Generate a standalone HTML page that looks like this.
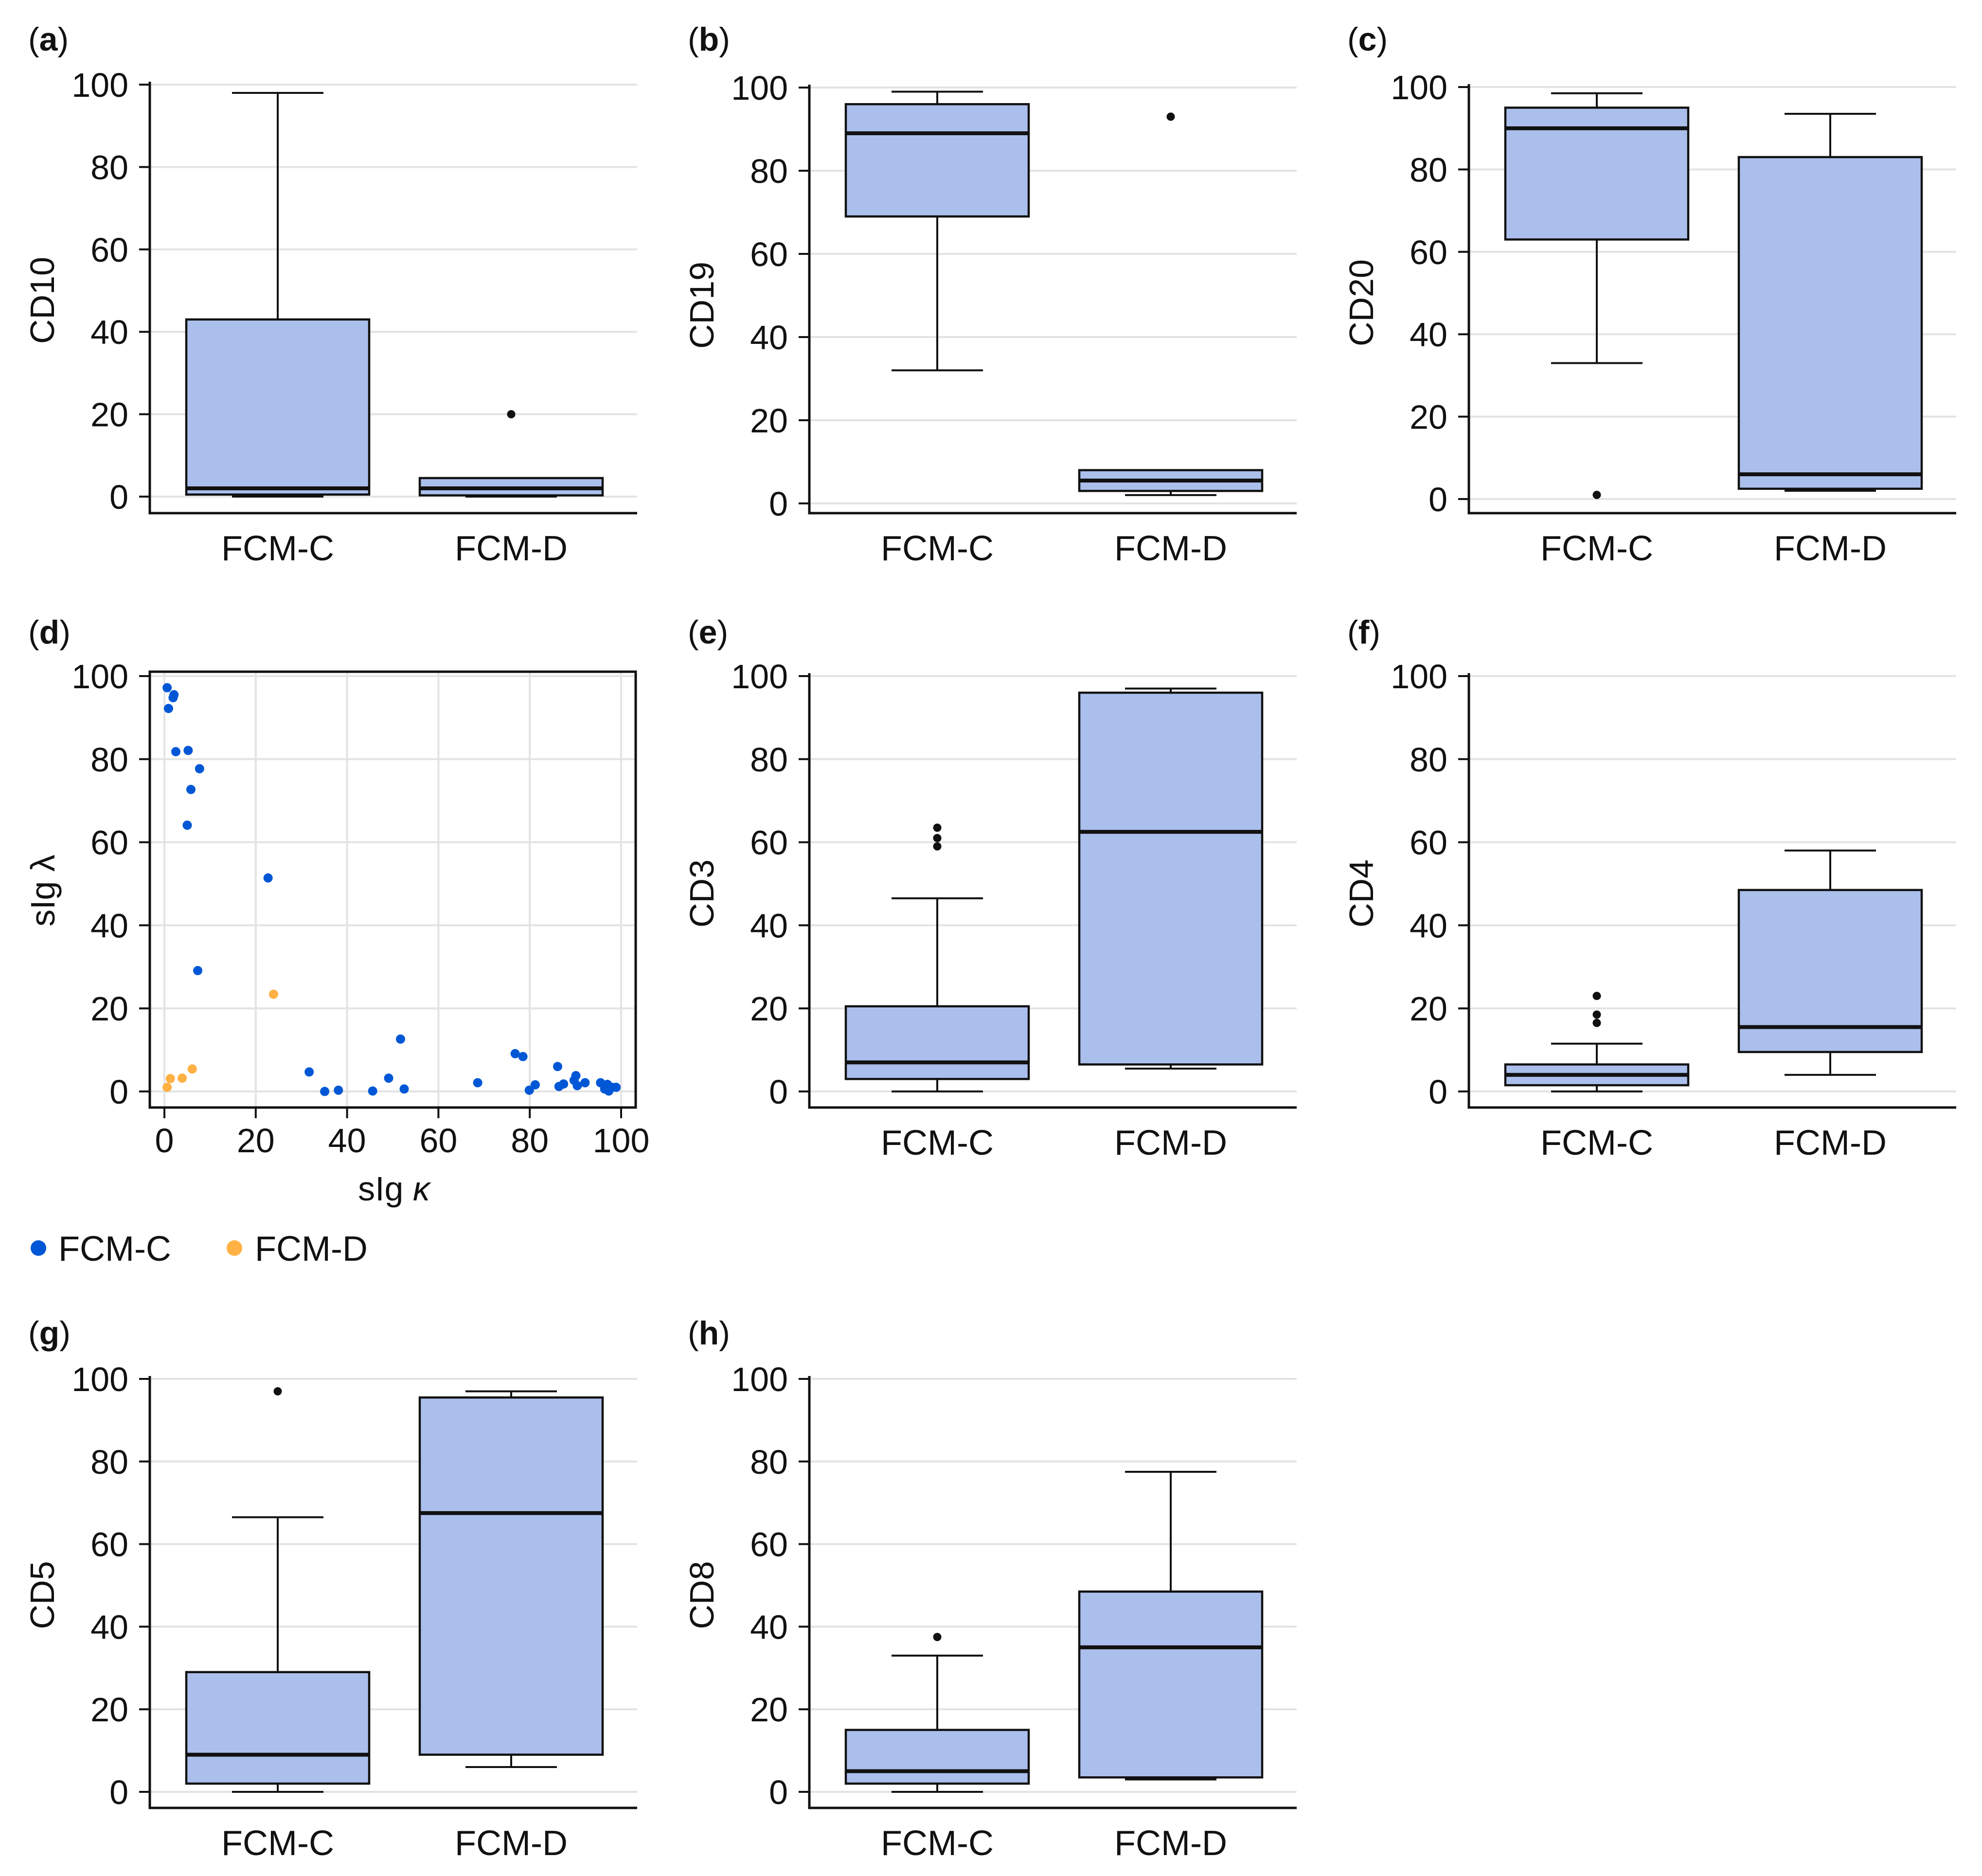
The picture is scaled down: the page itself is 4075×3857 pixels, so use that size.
<!DOCTYPE html>
<html><head><meta charset="utf-8"><style>
html,body{margin:0;padding:0;background:#fff;}
svg{display:block;}
text{font-family:"Liberation Sans",sans-serif;fill:#111;}
</style></head><body>
<svg id="fig" xmlns="http://www.w3.org/2000/svg" width="4075" height="3857" viewBox="0 0 4075 3857"></svg>
<script>
// ---- data ----
const categories = ["FCM-C", "FCM-D"];
const yTicks = [0, 20, 40, 60, 80, 100];
const xTicksD = [0, 20, 40, 60, 80, 100];
// box stats: [min, q1, median, q3, max]
const boxA = [[0, 0.5, 2, 43, 98], [0, 0.3, 2, 4.5, 4.5]];
const outA = [[], [20]];
const boxB = [[32, 69, 89, 96, 99], [2, 3, 5.5, 8, 8]];
const outB = [[], [93]];
const boxC = [[33, 63, 90, 95, 98.5], [2, 2.5, 6, 83, 93.5]];
const outC = [[1], []];
const boxE = [[0, 3, 7, 20.5, 46.5], [5.5, 6.5, 62.5, 96, 97]];
const outE = [[59, 61, 63.5], []];
const boxF = [[0, 1.5, 4, 6.5, 11.5], [4, 9.5, 15.5, 48.5, 58]];
const outF = [[16.5, 18.5, 23], []];
const boxG = [[0, 2, 9, 29, 66.5], [6, 9, 67.5, 95.5, 97]];
const outG = [[97], []];
const boxH = [[0, 2, 5, 15, 33], [3, 3.5, 35, 48.5, 77.5]];
const outH = [[37.5], []];
// scatter (d): sIg kappa (x), sIg lambda (y)
const scCx = [0.6,2.1,1.9,0.9,2.5,5.2,7.7,5.8,5.0,22.7,7.3,31.7,35.1,38.1,45.6,49.1,51.7,52.5,68.6,76.8,78.5,79.9,81.2,86.1,86.4,87.4,89.7,90.1,90.4,92.1,95.5,96.4,97.0,97.3,98.0,98.9];
const scCy = [97.2,95.5,94.8,92.2,81.8,82.1,77.7,72.7,64.1,51.4,29.1,4.7,0,0.3,0.1,3.2,12.6,0.6,2.1,9.1,8.4,0.3,1.6,6.0,1.2,1.8,2.7,3.8,1.4,2.1,2.1,0.6,1.7,0.1,1.0,1.0];
const scDx = [0.6,1.3,3.9,6.1,23.9];
const scDy = [1.0,3.1,3.2,5.4,23.4];

const NS = "http://www.w3.org/2000/svg";
const svg = document.getElementById("fig");
function mk(tag, attrs, parent, txt){
  const e = document.createElementNS(NS, tag);
  for (const k in attrs) e.setAttribute(k, attrs[k]);
  if (txt !== undefined) e.textContent = txt;
  (parent || svg).appendChild(e);
  return e;
}
const GRID = "#e3e3e3", FILL = "#abbfec", FS = 70, PW = 1002;

function panelLabel(g, id, x, y){
  const pl = mk("text", {x: x, y: y, "font-size": 68}, g);
  
  
  mk("tspan", {}, pl, "(");
  mk("tspan", {"font-weight": "bold"}, pl, id);
  mk("tspan", {}, pl, ")");
}

function boxPanel(id, title, px, y0, y100, bottom, labelY){
  const boxes = arguments[7], outs = arguments[8];
  const g = mk("g", {});
  
  
  const left = px, right = px + PW;
  const yS = v => y0 + (y100 - y0) * v / 100;
  const top = y100 - 6;
  panelLabel(g, id, px - 250, labelY);
  yTicks.forEach(t => {
    const gl = mk("line", {x1: left, x2: right, y1: yS(t), y2: yS(t), stroke: GRID, "stroke-width": 4}, g);
    
    
    mk("line", {x1: left - 22, x2: left, y1: yS(t), y2: yS(t), stroke: "#111", "stroke-width": 4}, g);
    const tl = mk("text", {x: left - 44, y: yS(t) + 25, "font-size": FS, "text-anchor": "end"}, g, String(t));
    
    
  });
  const ax = mk("path", {d: `M${left},${top} V${bottom} H${right}`, fill: "none", stroke: "#111", "stroke-width": 5}, g);
  
  
  const yt = mk("text", {x: 0, y: 0, "font-size": FS, "text-anchor": "middle", transform: `translate(${px - 197},${(y0 + y100) / 2 + 20}) rotate(-90)`}, g, title);
  
  
  const centers = [px + 263, px + 743];
  const hw = 188;
  boxes.forEach((b, i) => {
    const cx = centers[i];
    const bg = mk("g", {}, g);
    
    
    mk("line", {x1: cx, x2: cx, y1: yS(b[0]), y2: yS(b[1]), stroke: "#111", "stroke-width": 4}, bg);
    mk("line", {x1: cx, x2: cx, y1: yS(b[3]), y2: yS(b[4]), stroke: "#111", "stroke-width": 4}, bg);
    mk("line", {x1: cx - 94, x2: cx + 94, y1: yS(b[0]), y2: yS(b[0]), stroke: "#111", "stroke-width": 4}, bg);
    mk("line", {x1: cx - 94, x2: cx + 94, y1: yS(b[4]), y2: yS(b[4]), stroke: "#111", "stroke-width": 4}, bg);
    mk("rect", {x: cx - hw, y: yS(b[3]), width: 2 * hw, height: yS(b[1]) - yS(b[3]), fill: FILL, stroke: "#111", "stroke-width": 4.5}, bg);
    mk("line", {x1: cx - hw, x2: cx + hw, y1: yS(b[2]), y2: yS(b[2]), stroke: "#111", "stroke-width": 8}, bg);
    outs[i].forEach(o => {
      const c = mk("circle", {cx: cx, cy: yS(o), r: 8.5, fill: "#111"}, bg);
      
      
    });
    const cl = mk("text", {x: cx, y: bottom + 97, "font-size": 72, "text-anchor": "middle"}, g, categories[i]);
    
    
  });
}

const C1 = 308, C2 = 1664, C3 = 3020;
// Row 1
boxPanel("a", "CD10", C1, 1021, 174, 1055, 104, boxA, outA);
boxPanel("b", "CD19", C2, 1035, 180, 1055, 104, boxB, outB);
boxPanel("c", "CD20", C3, 1026, 179, 1055, 104, boxC, outC);
// Row 2
boxPanel("e", "CD3", C2, 2244, 1390, 2277, 1323, boxE, outE);
boxPanel("f", "CD4", C3, 2244, 1390, 2277, 1323, boxF, outF);
// Row 3
boxPanel("g", "CD5", C1, 3684, 2835, 3717, 2764, boxG, outG);
boxPanel("h", "CD8", C2, 3684, 2835, 3717, 2764, boxH, outH);

// Scatter (d)
(function(){
  const g = mk("g", {});
  
  
  const L = 308, R = 1307, T = 1381, B = 2277;
  const xS = v => 338 + (1277 - 338) * v / 100;
  const yS = v => 2244 + (1390 - 2244) * v / 100;
  panelLabel(g, "d", 58, 1323);
  yTicks.forEach(t => {
    const gl = mk("line", {x1: L, x2: R, y1: yS(t), y2: yS(t), stroke: GRID, "stroke-width": 4}, g);
    
    
    mk("line", {x1: L - 22, x2: L, y1: yS(t), y2: yS(t), stroke: "#111", "stroke-width": 4}, g);
    const tl = mk("text", {x: L - 44, y: yS(t) + 25, "font-size": FS, "text-anchor": "end"}, g, String(t));
    
    
  });
  xTicksD.forEach(t => {
    const gl = mk("line", {x1: xS(t), x2: xS(t), y1: T, y2: B, stroke: GRID, "stroke-width": 4}, g);
    
    
    mk("line", {x1: xS(t), x2: xS(t), y1: B, y2: B + 22, stroke: "#111", "stroke-width": 4}, g);
    const tl = mk("text", {x: xS(t), y: B + 92, "font-size": FS, "text-anchor": "middle"}, g, String(t));
    
    
  });
  const fr = mk("rect", {x: L, y: T, width: R - L, height: B - T, fill: "none", stroke: "#111", "stroke-width": 5}, g);
  
  
  scCx.forEach((x, i) => {
    const c = mk("circle", {cx: xS(x), cy: yS(scCy[i]), r: 9.5, fill: "#0057d6"}, g);
    
    
  });
  scDx.forEach((x, i) => {
    const c = mk("circle", {cx: xS(x), cy: yS(scDy[i]), r: 9.5, fill: "#ffb144"}, g);
    
    
  });
  const xt = mk("text", {x: 810, y: 2468, "font-size": FS, "text-anchor": "middle"}, g);
  
  
  mk("tspan", {}, xt, "sIg ");
  mk("tspan", {"font-style": "italic"}, xt, "κ");
  const yt = mk("text", {x: 0, y: 0, "font-size": FS, "text-anchor": "middle", transform: "translate(112,1831) rotate(-90)"}, g, "sIg λ");
  
  
  // legend
  const lg = mk("g", {}, g);
  
  
  const l1 = mk("g", {}, lg);
  
  
  mk("circle", {cx: 79, cy: 2566, r: 16, fill: "#0057d6"}, l1);
  mk("text", {x: 120, y: 2592, "font-size": 72}, l1, "FCM-C");
  const l2 = mk("g", {}, lg);
  
  
  mk("circle", {cx: 482, cy: 2566, r: 16, fill: "#ffb144"}, l2);
  mk("text", {x: 524, y: 2592, "font-size": 72}, l2, "FCM-D");
})();
</script>
</body></html>
